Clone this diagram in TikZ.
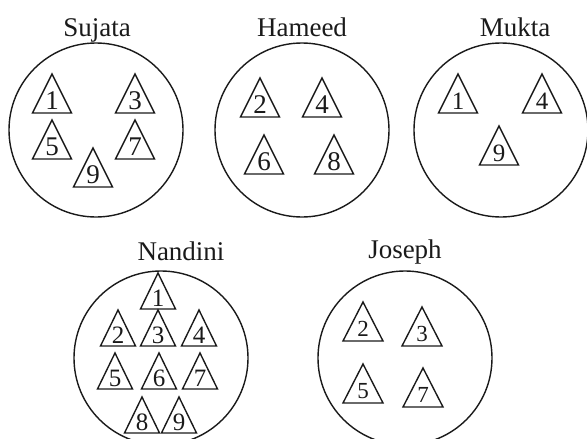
\documentclass[tikz,border=0pt]{standalone}
\usepackage{fontspec}
\setmainfont{Liberation Serif}
\usepackage{tikz}
\definecolor{ink}{HTML}{1A1A1A}

\begin{document}
\begin{tikzpicture}[x=1pt,y=-1pt,line width=1.4pt,draw=ink,
  setname/.style={font=\fontsize{27}{30}\selectfont,text=ink,anchor=base,inner sep=0pt},
  num/.style={font=\fontsize{27}{30}\selectfont,text=ink,anchor=base,inner sep=0pt}]
  \clip (0,0) rectangle (587,439);
  % the five sets
  \foreach \cx/\cy/\who/\lx/\ly in {96/130/Sujata/97/36,302/130/Hameed/302/36,501/130/Mukta/515/36,
      161/358/Nandini/181/260,405/358/Joseph/405/258}{
    \draw[ink] (\cx,\cy) circle[radius=87];
    \node[setname] (lab\who) at (\lx,\ly) {\who};
  }
  % triangles: base centre x / base y / number
  \foreach \x/\y/\n in {52/113/1,135/113/3,52/159/5,135/159/7,93/187/9}{
    \draw[ink] (\x-19.5,\y)--(\x,\y-39)--(\x+19.5,\y)--cycle;
    \node[num] (s\n) at (\x,\y-4) {\n};
  }
  \foreach \x/\y/\n in {260/117/2,322/117/4,264/174/6,334/174/8}{
    \draw[ink] (\x-19.5,\y)--(\x,\y-39)--(\x+19.5,\y)--cycle;
    \node[num] (h\n) at (\x,\y-4) {\n};
  }
  \foreach \x/\y/\n in {458/113/1,542/113/4,499/165/9}{
    \draw[ink] (\x-19.5,\y)--(\x,\y-39)--(\x+19.5,\y)--cycle;
    \node[num,font=\fontsize{25}{28}\selectfont] (m\n) at (\x,\y-4) {\n};
  }
  \foreach \x/\y/\n in {158/309/1,118/346/2,158/346/3,199/346/4,115/389/5,159/389/6,200/389/7,142/433/8,179/433/9}{
    \draw[ink] (\x-17.5,\y)--(\x,\y-36)--(\x+17.5,\y)--cycle;
    \node[num,font=\fontsize{25}{28}\selectfont] (n\n) at (\x,\y-3) {\n};
  }
  \foreach \x/\y/\n in {363/341/2,422/346/3,363/403/5,423/407/7}{
    \draw[ink] (\x-20,\y)--(\x,\y-39)--(\x+20,\y)--cycle;
    \node[num,font=\fontsize{23}{26}\selectfont] (j\n) at (\x,\y-5) {\n};
  }
\end{tikzpicture}
\end{document}
